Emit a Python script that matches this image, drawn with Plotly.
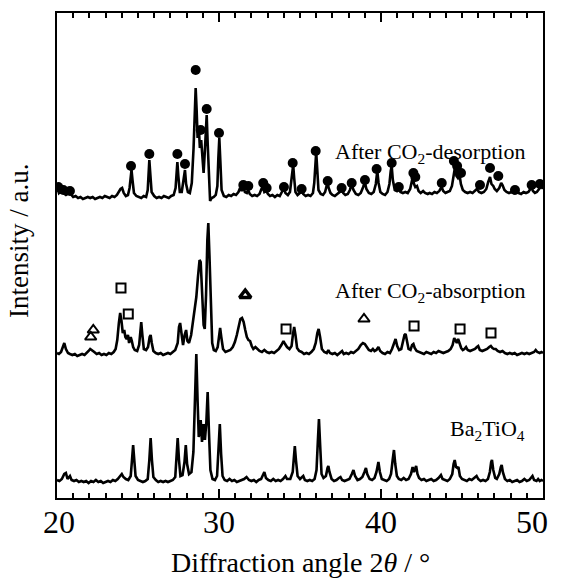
import plotly.graph_objects as go

# ---------------- data (2theta in degrees, intensity in a.u. above each pattern's baseline) ----------------
BA2TIO4 = [
    (20.0, 2), (20.15, 1), (20.3, 3), (20.45, 8), (20.55, 9), (20.65, 3), (20.8, 6), (20.9, 2), (21.05, 1),
    (21.2, 2), (21.35, 0), (21.5, 1), (21.65, 0), (21.8, 1), (21.95, -1), (22.1, 1), (22.25, 0), (22.4, 2),
    (22.55, 0), (22.7, 1), (22.85, -1), (23.0, 0), (23.15, 1), (23.3, 0), (23.45, 2), (23.6, 1), (23.75, 3),
    (23.9, 6), (24.0, 8), (24.1, 5), (24.25, 3), (24.4, 2), (24.55, 6), (24.62, 20), (24.7, 37), (24.78, 20),
    (24.85, 6), (25.0, 2), (25.15, 1), (25.3, 0), (25.45, 1), (25.6, 3), (25.7, 22), (25.78, 44), (25.86, 22),
    (25.95, 5), (26.1, 2), (26.25, 0), (26.4, 1), (26.55, 0), (26.7, 1), (26.85, 0), (27.0, 1), (27.15, 2),
    (27.3, 5), (27.38, 24), (27.45, 44), (27.53, 22), (27.62, 6), (27.75, 7), (27.87, 20), (27.95, 37),
    (28.03, 18), (28.15, 8), (28.3, 10), (28.42, 30), (28.52, 90), (28.6, 128), (28.68, 80), (28.75, 45),
    (28.87, 62), (28.95, 40), (29.05, 58), (29.13, 42), (29.22, 60), (29.3, 90), (29.38, 50), (29.47, 12),
    (29.6, 3), (29.75, 2), (29.88, 6), (29.97, 30), (30.05, 58), (30.13, 28), (30.22, 6), (30.35, 2),
    (30.5, 1), (30.65, 3), (30.8, 1), (30.95, 2), (31.1, 0), (31.25, 1), (31.4, 2), (31.55, 3), (31.7, 5),
    (31.85, 2), (32.0, 1), (32.15, 2), (32.3, 0), (32.45, 2), (32.6, 3), (32.72, 8), (32.8, 10), (32.9, 4),
    (33.05, 2), (33.2, 1), (33.35, 3), (33.5, 1), (33.65, 2), (33.8, 1), (33.95, 3), (34.1, 6), (34.2, 3),
    (34.4, 3), (34.55, 10), (34.62, 24), (34.68, 36), (34.75, 22), (34.85, 6), (35.0, 3), (35.12, 5),
    (35.2, 6), (35.3, 2), (35.45, 1), (35.6, 2), (35.75, 1), (35.9, 3), (36.02, 12), (36.1, 40), (36.17, 63),
    (36.24, 38), (36.33, 8), (36.45, 4), (36.6, 6), (36.7, 14), (36.75, 16), (36.82, 10), (36.95, 3),
    (37.1, 1), (37.25, 2), (37.4, 4), (37.5, 5), (37.6, 2), (37.75, 1), (37.9, 2), (38.05, 3), (38.2, 8),
    (38.3, 12), (38.4, 6), (38.55, 2), (38.7, 3), (38.85, 5), (38.98, 10), (39.07, 14), (39.15, 8),
    (39.3, 3), (39.45, 2), (39.6, 4), (39.72, 10), (39.84, 20), (39.93, 10), (40.05, 3), (40.2, 2),
    (40.35, 1), (40.5, 3), (40.62, 8), (40.72, 22), (40.8, 32), (40.88, 18), (40.98, 6), (41.1, 3),
    (41.25, 2), (41.4, 4), (41.55, 2), (41.7, 3), (41.85, 8), (41.95, 15), (42.03, 10), (42.1, 13),
    (42.17, 16), (42.25, 8), (42.35, 4), (42.5, 2), (42.65, 3), (42.8, 1), (42.95, 2), (43.1, 3),
    (43.25, 1), (43.4, 2), (43.55, 4), (43.7, 7), (43.8, 3), (43.95, 2), (44.1, 1), (44.25, 3), (44.4, 8),
    (44.48, 18), (44.55, 22), (44.63, 15), (44.72, 14), (44.78, 15), (44.87, 6), (45.0, 3), (45.15, 2),
    (45.3, 1), (45.45, 3), (45.6, 2), (45.75, 4), (45.9, 6), (46.0, 3), (46.15, 1), (46.3, 2), (46.45, 1),
    (46.6, 3), (46.72, 10), (46.8, 20), (46.85, 22), (46.93, 12), (47.05, 4), (47.15, 3), (47.3, 8),
    (47.4, 15), (47.45, 17), (47.52, 10), (47.65, 3), (47.8, 1), (47.95, 2), (48.1, 0), (48.25, 1),
    (48.4, 2), (48.55, 0), (48.7, 1), (48.85, 3), (49.0, 1), (49.15, 2), (49.3, 5), (49.35, 6), (49.45, 2),
    (49.6, 1), (49.7, 3), (49.8, 1), (49.9, 2), (50.0, 1),
]

AFTER_ABSORPTION = [
    (20.0, 2), (20.12, 1), (20.25, 3), (20.35, 7), (20.45, 12), (20.55, 6), (20.68, 2), (20.8, 1), (20.95, 0),
    (21.1, 1), (21.25, -1), (21.4, 0), (21.55, 1), (21.7, 0), (21.85, 2), (21.95, 4), (22.05, 6), (22.15, 5),
    (22.3, 3), (22.45, 1), (22.6, 2), (22.75, 0), (22.9, 1), (23.05, 0), (23.2, 2), (23.35, 1), (23.5, 3),
    (23.62, 6), (23.72, 15), (23.82, 32), (23.9, 42), (23.98, 34), (24.06, 22), (24.15, 25), (24.22, 18),
    (24.3, 16), (24.38, 20), (24.45, 12), (24.55, 18), (24.62, 14), (24.7, 8), (24.8, 5), (24.95, 4),
    (25.07, 10), (25.15, 28), (25.2, 33), (25.27, 20), (25.36, 6), (25.5, 5), (25.62, 8), (25.72, 18),
    (25.78, 20), (25.85, 12), (25.95, 4), (26.1, 2), (26.25, 1), (26.4, 2), (26.55, 0), (26.7, 1), (26.85, 2),
    (27.0, 1), (27.15, 3), (27.3, 5), (27.45, 12), (27.53, 28), (27.6, 32), (27.68, 22), (27.78, 10),
    (27.88, 20), (27.97, 25), (28.05, 14), (28.15, 12), (28.28, 20), (28.4, 35), (28.5, 50), (28.6, 58),
    (28.7, 78), (28.8, 95), (28.87, 93), (28.95, 60), (29.05, 30), (29.12, 26), (29.2, 60), (29.28, 115),
    (29.34, 132), (29.41, 100), (29.5, 40), (29.58, 12), (29.68, 5), (29.8, 4), (29.92, 8), (30.0, 20),
    (30.07, 27), (30.14, 18), (30.25, 6), (30.4, 3), (30.55, 4), (30.7, 5), (30.85, 8), (30.98, 13),
    (31.1, 20), (31.22, 30), (31.32, 36), (31.42, 37), (31.52, 33), (31.62, 25), (31.72, 18), (31.82, 15),
    (31.92, 14), (32.02, 9), (32.12, 6), (32.25, 8), (32.35, 6), (32.5, 4), (32.65, 3), (32.8, 5),
    (32.95, 3), (33.1, 2), (33.25, 3), (33.4, 2), (33.55, 4), (33.7, 6), (33.85, 10), (33.98, 14),
    (34.08, 11), (34.2, 8), (34.35, 6), (34.48, 9), (34.56, 20), (34.64, 28), (34.72, 20), (34.82, 7),
    (34.95, 4), (35.1, 3), (35.25, 1), (35.4, 2), (35.55, 1), (35.7, 3), (35.85, 6), (35.97, 12),
    (36.07, 22), (36.15, 26), (36.24, 18), (36.35, 6), (36.5, 3), (36.65, 2), (36.75, 5), (36.85, 2),
    (37.0, 1), (37.15, 2), (37.3, 0), (37.45, 2), (37.6, 4), (37.7, 1), (37.85, 2), (38.0, 1), (38.15, 3),
    (38.3, 2), (38.45, 4), (38.6, 6), (38.75, 10), (38.88, 12), (39.0, 11), (39.12, 8), (39.25, 5),
    (39.38, 4), (39.5, 6), (39.6, 4), (39.72, 5), (39.84, 8), (39.95, 4), (40.1, 2), (40.25, 1), (40.4, 3),
    (40.55, 2), (40.68, 6), (40.8, 12), (40.9, 16), (41.0, 9), (41.12, 5), (41.25, 6), (41.35, 12),
    (41.45, 20), (41.52, 21), (41.6, 12), (41.7, 6), (41.82, 5), (41.92, 10), (42.0, 11), (42.08, 7),
    (42.2, 4), (42.35, 3), (42.5, 2), (42.65, 1), (42.8, 3), (42.95, 2), (43.1, 1), (43.25, 3), (43.4, 2),
    (43.55, 4), (43.7, 3), (43.85, 2), (44.0, 3), (44.15, 4), (44.3, 6), (44.42, 10), (44.52, 17),
    (44.6, 15), (44.68, 12), (44.76, 16), (44.85, 11), (44.95, 7), (45.05, 5), (45.15, 6), (45.25, 8),
    (45.35, 5), (45.5, 4), (45.65, 5), (45.8, 6), (45.92, 8), (46.0, 9), (46.1, 5), (46.25, 4), (46.4, 5),
    (46.55, 6), (46.68, 8), (46.78, 9), (46.88, 7), (46.98, 6), (47.08, 6), (47.2, 4), (47.35, 3),
    (47.5, 4), (47.65, 2), (47.8, 1), (47.95, 2), (48.1, 1), (48.25, 2), (48.4, 0), (48.55, 1), (48.7, 2),
    (48.85, 1), (49.0, 2), (49.15, 1), (49.3, 2), (49.45, 3), (49.55, 5), (49.65, 3), (49.8, 2), (49.9, 3),
    (50.0, 2),
]

AFTER_DESORPTION = [
    (20.0, 8), (20.05, 9), (20.12, 5), (20.2, 6), (20.3, 8), (20.38, 5), (20.45, 4), (20.55, 3), (20.65, 4),
    (20.75, 6), (20.82, 7), (20.9, 3), (21.0, 1), (21.15, 2), (21.3, 0), (21.45, 1), (21.6, -1), (21.75, 0),
    (21.9, 1), (22.05, 0), (22.2, 1), (22.35, -1), (22.5, 0), (22.65, 1), (22.8, 0), (22.95, 2), (23.1, 1),
    (23.25, 0), (23.4, 2), (23.55, 1), (23.7, 3), (23.8, 6), (23.92, 9), (24.02, 10), (24.12, 5), (24.25, 2),
    (24.38, 3), (24.48, 10), (24.55, 22), (24.6, 28), (24.66, 18), (24.75, 5), (24.9, 2), (25.05, 1),
    (25.2, 0), (25.35, 2), (25.5, 1), (25.6, 8), (25.65, 25), (25.7, 38), (25.76, 24), (25.84, 6), (26.0, 2),
    (26.15, 0), (26.3, 1), (26.45, 0), (26.6, 2), (26.75, 1), (26.9, 0), (27.05, 2), (27.2, 3), (27.32, 10),
    (27.38, 25), (27.43, 36), (27.49, 22), (27.58, 6), (27.7, 6), (27.82, 18), (27.9, 28), (27.97, 14),
    (28.08, 6), (28.2, 5), (28.32, 15), (28.43, 50), (28.5, 90), (28.56, 110), (28.62, 88), (28.68, 60),
    (28.75, 72), (28.82, 50), (28.9, 58), (28.97, 40), (29.05, 25), (29.12, 45), (29.19, 75), (29.24, 83),
    (29.3, 55), (29.38, 15), (29.45, -3), (29.55, 0), (29.68, 1), (29.8, 3), (29.9, 12), (29.96, 40),
    (30.02, 60), (30.08, 38), (30.16, 8), (30.3, 2), (30.45, 1), (30.6, 3), (30.75, 2), (30.9, 4), (31.05, 3),
    (31.2, 6), (31.3, 10), (31.4, 7), (31.5, 11), (31.6, 6), (31.72, 5), (31.8, 8), (31.9, 4), (32.05, 2),
    (32.2, 3), (32.35, 2), (32.5, 4), (32.62, 9), (32.7, 12), (32.8, 6), (32.92, 7), (33.02, 4), (33.15, 2),
    (33.3, 3), (33.45, 1), (33.6, 3), (33.75, 2), (33.88, 6), (34.0, 10), (34.1, 5), (34.25, 3), (34.38, 6),
    (34.48, 18), (34.54, 30), (34.58, 33), (34.64, 20), (34.72, 6), (34.85, 3), (35.0, 5), (35.1, 8),
    (35.2, 4), (35.35, 2), (35.5, 3), (35.65, 2), (35.8, 5), (35.88, 15), (35.95, 40), (36.0, 46),
    (36.06, 30), (36.14, 8), (36.28, 4), (36.42, 3), (36.55, 6), (36.65, 14), (36.7, 16), (36.77, 10),
    (36.88, 5), (37.0, 3), (37.15, 2), (37.3, 4), (37.45, 6), (37.57, 9), (37.67, 5), (37.8, 3), (37.95, 4),
    (38.08, 8), (38.2, 14), (38.3, 8), (38.45, 4), (38.6, 3), (38.75, 5), (38.9, 11), (39.0, 16), (39.1, 9),
    (39.25, 5), (39.4, 4), (39.55, 6), (39.68, 14), (39.77, 27), (39.85, 15), (39.96, 6), (40.1, 4),
    (40.25, 3), (40.4, 6), (40.52, 14), (40.6, 27), (40.66, 32), (40.73, 18), (40.85, 8), (40.98, 7),
    (41.1, 10), (41.2, 6), (41.35, 5), (41.5, 6), (41.65, 5), (41.8, 9), (41.9, 18), (41.96, 21),
    (42.04, 14), (42.12, 11), (42.22, 12), (42.32, 7), (42.45, 5), (42.6, 7), (42.72, 5), (42.88, 4),
    (43.0, 5), (43.15, 4), (43.3, 6), (43.45, 5), (43.6, 7), (43.74, 11), (43.84, 7), (43.98, 5), (44.1, 6),
    (44.25, 7), (44.38, 12), (44.48, 24), (44.57, 31), (44.66, 22), (44.75, 20), (44.85, 23), (44.93, 14),
    (45.05, 8), (45.2, 6), (45.35, 5), (45.5, 6), (45.65, 5), (45.8, 7), (45.92, 9), (46.05, 6), (46.2, 5),
    (46.35, 6), (46.5, 9), (46.62, 16), (46.73, 21), (46.82, 14), (46.93, 12), (47.02, 9), (47.15, 7),
    (47.3, 10), (47.42, 15), (47.5, 13), (47.62, 8), (47.75, 6), (47.9, 5), (48.05, 6), (48.2, 5),
    (48.35, 7), (48.5, 5), (48.65, 4), (48.8, 6), (48.95, 5), (49.1, 6), (49.22, 9), (49.3, 10), (49.38, 7),
    (49.5, 5), (49.62, 6), (49.72, 8), (49.82, 10), (49.9, 12), (50.0, 9),
]

# phase markers: (2theta, height above the pattern baseline)
DOTS_BA2TIO4 = [  # filled circles on the desorbed pattern
    (20.08, 11), (20.39, 8), (20.8, 7), (24.57, 32), (25.70, 44), (27.43, 44), (27.90, 34), (28.56, 128),
    (28.87, 68), (29.24, 89), (30.0, 65), (31.50, 13), (31.81, 12), (32.73, 15), (32.94, 10), (34.01, 11),
    (34.55, 35), (35.10, 9), (35.97, 47), (36.71, 17), (37.57, 10), (38.19, 15), (39.01, 18), (39.73, 29),
    (40.66, 35), (41.1, 11), (42.0, 25), (42.12, 21), (43.75, 15), (44.5, 37), (44.7, 32), (44.94, 25),
    (46.11, 13), (46.73, 30), (47.24, 22), (48.27, 8), (49.30, 13), (49.81, 14),
]
SQUARES_BACO3 = [(23.95, 67), (24.40, 41), (34.14, 26), (42.04, 29), (44.88, 26), (46.79, 22)]
TRIANGLES_OPEN = [(22.08, 18), (22.24, 25), (38.95, 36)]
TRIANGLES_BOLD = [(31.62, 60)]

LABELS = ["After CO<sub>2</sub>-desorption", "After CO<sub>2</sub>-absorption", "Ba<sub>2</sub>TiO<sub>4</sub>"]
X_TICKS = [20, 30, 40, 50]

# ---------------- layout (stacking offsets etc.) ----------------
OFFSET_TOP, OFFSET_MID, OFFSET_BOT = 300, 143, 16
FONT = "Liberation Serif, Times New Roman, serif"
TICK_SHIFT = [2, 0, 0, -11]


def split(points, offset):
    return [p[0] for p in points], [p[1] + offset for p in points]


fig = go.Figure()
for pts, off in ((BA2TIO4, OFFSET_BOT), (AFTER_ABSORPTION, OFFSET_MID), (AFTER_DESORPTION, OFFSET_TOP)):
    x, y = split(pts, off)
    fig.add_trace(go.Scatter(x=x, y=y, mode="lines", line=dict(color="black", width=2.6),
                             showlegend=False, hoverinfo="skip"))

x, y = split(DOTS_BA2TIO4, OFFSET_TOP)
fig.add_trace(go.Scatter(x=x, y=y, mode="markers", showlegend=False,
                         marker=dict(symbol="circle", size=10, color="black")))
x, y = split(SQUARES_BACO3, OFFSET_MID)
fig.add_trace(go.Scatter(x=x, y=y, mode="markers", showlegend=False,
                         marker=dict(symbol="square-open", size=9, color="black", line=dict(width=2))))
x, y = split(TRIANGLES_OPEN, OFFSET_MID)
fig.add_trace(go.Scatter(x=x, y=y, mode="markers", showlegend=False,
                         marker=dict(symbol="triangle-up-open", size=10, color="black", line=dict(width=2))))
x, y = split(TRIANGLES_BOLD, OFFSET_MID)
fig.add_trace(go.Scatter(x=x, y=y, mode="markers", showlegend=False,
                         marker=dict(symbol="triangle-up-open", size=10, color="black", line=dict(width=3.5))))

label_y = [OFFSET_TOP + 45, OFFSET_MID + 63, OFFSET_BOT + 52]
for txt, ly in zip(LABELS, label_y):
    fig.add_annotation(x=49.0, y=ly, text=txt, showarrow=False, xanchor="right", yanchor="middle",
                       font=dict(family=FONT, size=22, color="black"))

# tick labels (drawn as text so the last one can sit inside the page like the original)
for v, sh in zip(X_TICKS, TICK_SHIFT):
    fig.add_annotation(x=v, y=0, yref="y", text=str(v), showarrow=False, xanchor="center", yanchor="top",
                       xshift=sh, yshift=-4, font=dict(family=FONT, size=32, color="black"))

fig.add_annotation(xref="paper", yref="paper", x=0.5, y=-0.134, yanchor="middle", showarrow=False,
                   text="Diffraction angle 2<i>θ</i> / °", font=dict(family=FONT, size=28, color="black"))
fig.add_annotation(xref="paper", yref="paper", x=-0.078, y=0.53, xanchor="center", yanchor="middle",
                   showarrow=False, textangle=-90, text="Intensity / a.u.",
                   font=dict(family=FONT, size=27, color="black"))

fig.update_layout(
    width=561, height=581, margin=dict(l=57, r=18, t=13, b=83, autoexpand=False),
    paper_bgcolor="white", plot_bgcolor="white",
    font=dict(family=FONT, color="black"),
)
fig.update_xaxes(range=[20, 50], tickvals=X_TICKS, showticklabels=False, automargin=False,
                 ticks="inside", ticklen=9, tickwidth=1.5, tickcolor="black",
                 minor=dict(dtick=1, ticks="inside", ticklen=5, tickwidth=1.5, tickcolor="black"),
                 showline=True, linewidth=2, linecolor="black", mirror="allticks",
                 showgrid=False, zeroline=False)
fig.update_yaxes(range=[0, 485], showticklabels=False, ticks="", showline=True, linewidth=2,
                 linecolor="black", mirror=True, showgrid=False, zeroline=False, automargin=False)

fig.write_html("out.html", config={"displayModeBar": False},
               post_script="document.body.style.margin='0';document.body.style.overflow='hidden';")
